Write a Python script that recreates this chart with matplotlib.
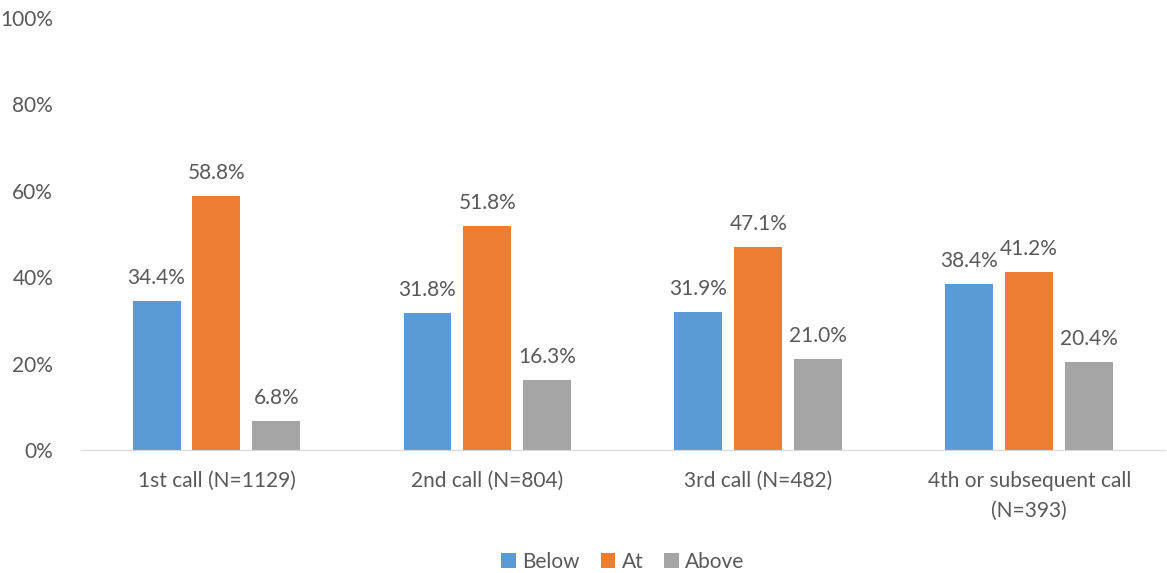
import numpy as np
from matplotlib import pyplot as plt

plt.rcParams['font.family'] = ['Lato', 'DejaVu Sans']

categorias = ["1st call (N=1129)", "2nd call (N=804)", "3rd call (N=482)",
              "4th or subsequent call\n(N=393)"]
series = ["Below", "At", "Above"]
below = [34.4, 31.8, 31.9, 38.4]
at = [58.8, 51.8, 47.1, 41.2]
above = [6.8, 16.3, 21.0, 20.4]
colores = ["#5B9BD5", "#ED7D31", "#A5A5A5"]
texto = "#595959"

fig = plt.figure(figsize=(11.67, 5.73), dpi=100)
ax = fig.add_axes([0.0694, 0.2147, 0.9286, 0.7539])

x = np.arange(len(categorias))
ancho = 0.177
paso = 0.221
for i, (nombre, vals) in enumerate(zip(series, [below, at, above])):
    pos = x + (i - 1) * paso
    bars = ax.bar(pos, vals, ancho, color=colores[i], label=nombre, zorder=2)
    for b, v in zip(bars, vals):
        ax.text(b.get_x() + b.get_width() / 2, v + 3, f"{v:.1f}%",
                ha="center", va="bottom", fontsize=15, color=texto)

ax.set_xlim(-0.5, len(categorias) - 0.5)
ax.set_ylim(0, 100)
ax.set_yticks(range(0, 101, 20))
ax.set_yticklabels([f"{t}%" for t in range(0, 101, 20)])
ax.set_xticks(x)
ax.set_xticklabels(categorias, linespacing=1.6)
ax.tick_params(axis="both", length=0, labelsize=15, labelcolor=texto)
ax.tick_params(axis="y", pad=20)
ax.tick_params(axis="x", pad=15)
for s in ["top", "right", "left"]:
    ax.spines[s].set_visible(False)
ax.spines["bottom"].set_color("#D9D9D9")

ax.legend(loc="center", bbox_to_anchor=(0.5, -0.259), ncol=3, frameon=False,
          fontsize=15, labelcolor=texto, handlelength=0.7, handleheight=0.7,
          handletextpad=0.3, columnspacing=1.0)

plt.savefig("out.png", dpi=100)
